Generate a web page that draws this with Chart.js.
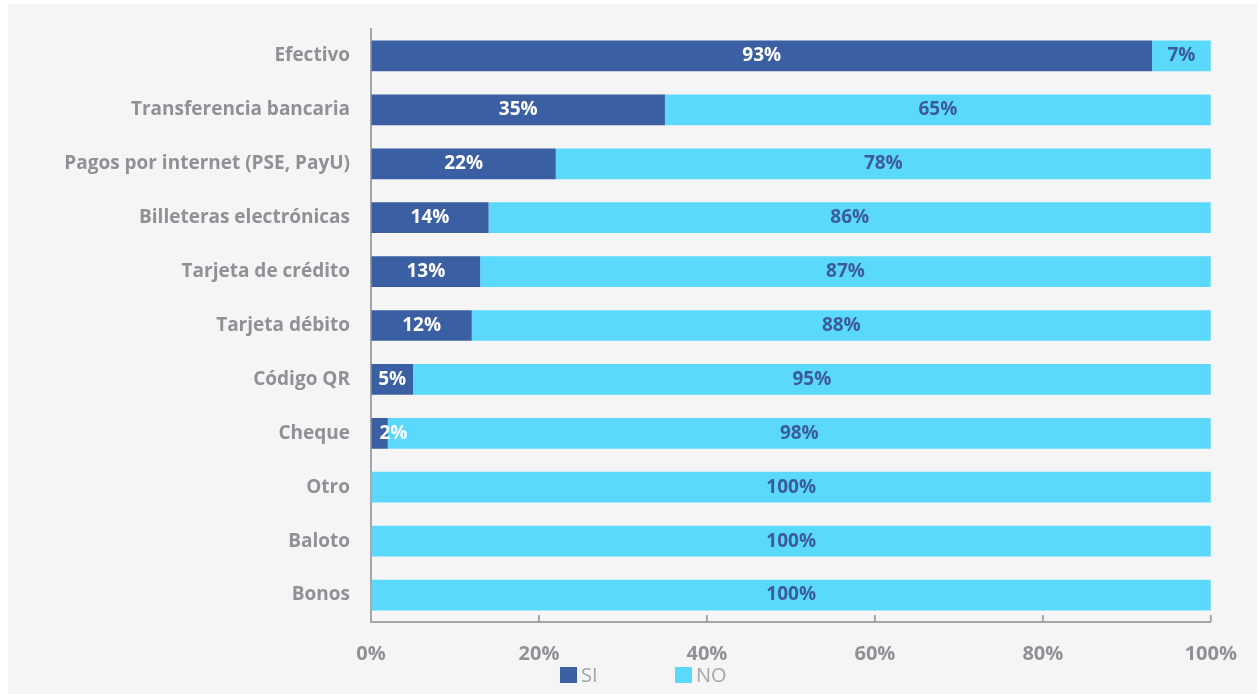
<!DOCTYPE html>
<html lang="es">
<head>
  <meta charset="UTF-8">
  <title>Medios de pago</title>
  <script src="https://cdn.jsdelivr.net/npm/chart.js"></script>
  <style>
    html, body { margin: 0; padding: 0; background: #fff; }
    #wrap { position: absolute; left: 8px; top: 4px; width: 1249px; height: 690px; background: #f5f5f5; }
    #chart { display: block; }
  </style>
</head>
<body>
  <div id="wrap"><canvas id="chart" width="1249" height="690"></canvas></div>
  <script>
    const categories = [
      'Efectivo', 'Transferencia bancaria', 'Pagos por internet (PSE, PayU)',
      'Billeteras electrónicas', 'Tarjeta de crédito', 'Tarjeta débito',
      'Código QR', 'Cheque', 'Otro', 'Baloto', 'Bonos'
    ];
    const seriesNames = ['SI', 'NO'];
    const siValues = [93, 35, 22, 14, 13, 12, 5, 2, 0, 0, 0];
    const noValues = [7, 65, 78, 86, 87, 88, 95, 98, 100, 100, 100];
    const xTickLabels = ['0%', '20%', '40%', '60%', '80%', '100%'];

    const barColors = ['#3a5fa3', '#5bd9fd'];
    const labelColors = ['#ffffff', '#3b5c9c'];
    const axisColor = '#a3a6aa';
    const textGray = '#8e9196';
    const fontFamily = '"Open Sans", "DejaVu Sans", sans-serif';

    // etiquetas dentro de cada segmento
    const segmentLabels = {
      id: 'segmentLabels',
      afterDatasetsDraw(chart) {
        const ctx = chart.ctx;
        ctx.save();
        ctx.font = 'bold 19px ' + fontFamily;
        ctx.textBaseline = 'middle';
        chart.data.datasets.forEach((ds, di) => {
          chart.getDatasetMeta(di).data.forEach((bar, i) => {
            const v = ds.data[i];
            if (!v) return;
            const text = v + '%';
            const w = ctx.measureText(text).width;
            const left = Math.min(bar.base, bar.x);
            const right = Math.max(bar.base, bar.x);
            ctx.fillStyle = labelColors[di];
            if (right - left < w) {
              ctx.textAlign = 'left';
              ctx.fillText(text, left + 8, bar.y);
            } else {
              ctx.textAlign = 'center';
              ctx.fillText(text, (left + right) / 2, bar.y);
            }
          });
        });
        ctx.restore();
      }
    };

    // marcas cortas hacia adentro sobre el eje x
    const innerTicks = {
      id: 'innerTicks',
      afterDraw(chart) {
        const ctx = chart.ctx, sx = chart.scales.x, bottom = chart.chartArea.bottom;
        ctx.save();
        ctx.strokeStyle = axisColor;
        ctx.lineWidth = 2;
        sx.ticks.forEach(t => {
          const px = sx.getPixelForValue(t.value);
          ctx.beginPath();
          ctx.moveTo(px, bottom);
          ctx.lineTo(px, bottom - 7);
          ctx.stroke();
        });
        ctx.restore();
      }
    };

    // leyenda abajo
    const bottomLegend = {
      id: 'bottomLegend',
      afterDraw(chart) {
        const ctx = chart.ctx;
        const y = 671;
        let x = 552;
        ctx.save();
        ctx.font = '20px ' + fontFamily;
        ctx.textBaseline = 'middle';
        ctx.textAlign = 'left';
        chart.data.datasets.forEach(ds => {
          ctx.fillStyle = ds.backgroundColor;
          ctx.fillRect(x, y - 8, 17, 16);
          ctx.fillStyle = '#a2a5aa';
          ctx.fillText(ds.label, x + 21, y + 1);
          x += 115;
        });
        ctx.restore();
      }
    };

    new Chart(document.getElementById('chart'), {
      type: 'bar',
      data: {
        labels: categories,
        datasets: [
          { label: seriesNames[0], data: siValues, backgroundColor: barColors[0] },
          { label: seriesNames[1], data: noValues, backgroundColor: barColors[1] }
        ]
      },
      options: {
        indexAxis: 'y',
        responsive: false,
        animation: false,
        barPercentage: 0.57,
        categoryPercentage: 1,
        layout: { padding: { top: 25, right: 45, bottom: 0, left: 0 } },
        plugins: {
          legend: { display: false },
          tooltip: { enabled: false }
        },
        scales: {
          x: {
            stacked: true,
            min: 0,
            max: 100,
            afterFit: s => { s.height = 72; },
            border: { color: axisColor, width: 2 },
            grid: { display: true, color: 'transparent', drawOnChartArea: false, drawTicks: false },
            ticks: {
              stepSize: 20,
              padding: 20,
              color: textGray,
              font: { family: fontFamily, size: 20, weight: 'bold' },
              callback: (v, i) => xTickLabels[i]
            }
          },
          y: {
            stacked: true,
            afterFit: s => { s.width = 363; },
            border: { color: axisColor, width: 2 },
            // marcas invisibles: dan el espacio entre etiqueta y eje
            grid: { display: true, color: 'transparent', drawOnChartArea: false, drawTicks: true, tickLength: 21 },
            ticks: {
              padding: 0,
              color: textGray,
              font: { family: fontFamily, size: 19, weight: 'bold' }
            }
          }
        }
      },
      plugins: [segmentLabels, innerTicks, bottomLegend]
    });
  </script>
</body>
</html>
